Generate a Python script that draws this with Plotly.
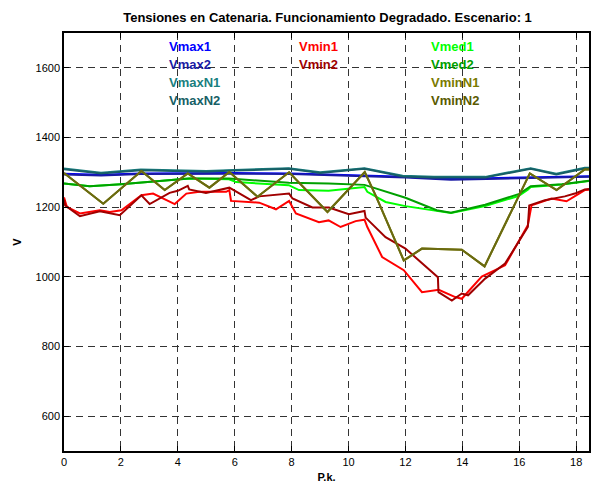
import plotly.graph_objects as go

# ---- data ----
vmax1_x = [0, 1.3, 2.7, 4, 6, 8, 9, 10.5, 12, 13.6, 15, 16.5, 18.45]
vmax1_y = [1296, 1293, 1297, 1298, 1298, 1297, 1295, 1292, 1287, 1281, 1283, 1287, 1289]
vmax2_x = [0, 1.3, 2.7, 4, 6, 8, 9, 10.5, 12, 13.6, 15, 16.5, 18.45]
vmax2_y = [1294, 1291, 1295, 1296, 1296, 1295, 1293, 1290, 1285, 1279, 1281, 1285, 1287]

vmaxn1_x = [0, 1.3, 2.7, 4, 5, 6, 7.9, 9, 10.56, 11.9, 13, 14.8, 16.4, 17.3, 18.3, 18.45]
vmaxn1_y = [1311, 1299, 1308, 1306, 1304, 1307, 1312, 1300, 1312, 1290, 1287, 1287, 1312, 1296, 1313, 1313]
vmaxn2_x = [0, 1.3, 2.7, 4, 5, 6, 7.9, 9, 10.56, 11.9, 13, 14.8, 16.4, 17.3, 18.3, 18.45]
vmaxn2_y = [1309, 1297, 1306, 1304, 1302, 1305, 1310, 1298, 1310, 1288, 1285, 1285, 1310, 1294, 1311, 1311]

vmin1_x = [0, 0.1, 0.56, 1.26, 1.61, 2.02, 2.72, 3.13, 3.89, 4.3, 4.76, 5.7, 5.81, 5.87,
           6.86, 7.45, 7.91, 8.15, 8.96, 9.3, 9.72, 10.25, 10.56, 10.66, 11.18, 11.94,
           12.58, 13.17, 13.75, 13.98, 14.68, 15.5, 16.3, 16.43, 17.13, 17.66, 18.0, 18.3, 18.45]
vmin1_y = [1228, 1201, 1182, 1191, 1186, 1191, 1234, 1239, 1209, 1239, 1244, 1244, 1249, 1218,
           1213, 1194, 1218, 1182, 1157, 1162, 1143, 1160, 1164, 1143, 1057, 1019,
           956, 963, 942, 937, 1001, 1033, 1148, 1205, 1225, 1217, 1234, 1249, 1250]

vmin2_x = [0, 0.04, 0.56, 1.26, 1.96, 2.72, 3.01, 3.71, 4.0, 4.35, 4.4, 4.99, 5.81, 6.16,
           6.57, 6.86, 7.91, 8.03, 8.73, 9.31, 10.01, 10.56, 10.6, 11.3, 12.0, 13.14,
           13.16, 13.63, 13.98, 14.2, 14.8, 15.5, 16.3, 16.35, 16.9, 17.6, 17.95, 18.3, 18.45]
vmin2_y = [1222, 1205, 1174, 1188, 1177, 1234, 1209, 1241, 1247, 1261, 1251, 1241, 1256, 1239,
           1220, 1231, 1239, 1225, 1199, 1199, 1180, 1189, 1170, 1114, 1081, 999,
           956, 932, 952, 947, 995, 1038, 1143, 1205, 1220, 1231, 1239, 1251, 1252]

vmed1_x = [0, 0.9, 2, 3.2, 4.4, 5.8, 6.05, 7.9, 8.26, 9.3, 10.56, 10.66, 11.3, 12,
           13.1, 13.6, 14.8, 15.97, 16.3, 16.4, 17.5, 18.45]
vmed1_y = [1268, 1260, 1266, 1275, 1282, 1280, 1272, 1263, 1249, 1247, 1258, 1244, 1215, 1203,
           1188, 1183, 1203, 1232, 1250, 1258, 1265, 1275]
vmed2_x = [0, 0.9, 2, 3.2, 4.4, 5.8, 7.9, 9.3, 10.56, 12, 13.1, 13.6, 14.8, 16.0, 16.4, 17.5, 18.45]
vmed2_y = [1268, 1260, 1266, 1275, 1282, 1282, 1270, 1268, 1264, 1227, 1191, 1184, 1207, 1238,
           1260, 1266, 1276]

vminn1_x = [0, 1.38, 2.72, 3.54, 4.35, 5.11, 5.81, 6.8, 7.91, 9.26, 10.57, 10.95, 11.94,
            12.58, 13.98, 14.78, 16.37, 17.31, 18.3, 18.45]
vminn1_y = [1298, 1210, 1304, 1249, 1297, 1256, 1301, 1230, 1300, 1186, 1301, 1234, 1047,
            1081, 1078, 1030, 1297, 1249, 1308, 1308]
vminn2_x = [0, 1.38, 2.72, 3.54, 4.35, 5.11, 5.81, 6.8, 7.91, 9.26, 10.57, 10.95, 11.94,
            12.58, 13.98, 14.78, 16.37, 17.31, 18.3, 18.45]
vminn2_y = [1298, 1210, 1304, 1249, 1297, 1256, 1301, 1230, 1300, 1186, 1301, 1234, 1047,
            1081, 1078, 1030, 1297, 1249, 1308, 1308]

x_ticks = [0, 2, 4, 6, 8, 10, 12, 14, 16, 18]
y_ticks = [600, 800, 1000, 1200, 1400, 1600]

series = [
    ("Vmax1", vmax1_x, vmax1_y, "#0000ff"),
    ("Vmax2", vmax2_x, vmax2_y, "#1a1aa5"),
    ("VmaxN1", vmaxn1_x, vmaxn1_y, "#1a7f7f"),
    ("VmaxN2", vmaxn2_x, vmaxn2_y, "#175f66"),
    ("Vmin1", vmin1_x, vmin1_y, "#ff0000"),
    ("Vmin2", vmin2_x, vmin2_y, "#a00000"),
    ("Vmed1", vmed1_x, vmed1_y, "#00ff00"),
    ("Vmed2", vmed2_x, vmed2_y, "#00a000"),
    ("VminN1", vminn1_x, vminn1_y, "#7a7a00"),
    ("VminN2", vminn2_x, vminn2_y, "#6a6a10"),
]

fig = go.Figure()
for name, xs, ys, col in series:
    fig.add_trace(go.Scatter(x=xs, y=ys, mode="lines", name=name,
                             line=dict(color=col, width=2), showlegend=False))

FONT = "Liberation Sans, Arial, Helvetica, sans-serif"

# Legend as coloured text (MATLAB-style, no line samples)
L, R, T, B = 64, 591, 33, 451
W, H = R - L, B - T
legend_pos = [
    ("Vmax1", "#0000ff", 167, 46), ("Vmax2", "#1a1aa5", 167, 64),
    ("VmaxN1", "#1a7f7f", 167, 82), ("VmaxN2", "#175f66", 167, 101),
    ("Vmin1", "#ff0000", 298, 46), ("Vmin2", "#a00000", 298, 64),
    ("Vmed1", "#00ff00", 430, 46), ("Vmed2", "#00a000", 430, 64),
    ("VminN1", "#7a7a00", 430, 82), ("VminN2", "#5a5a00", 430, 101),
]
annotations = []
for txt, col, px, py in legend_pos:
    annotations.append(dict(text="<b>" + txt + "</b>", x=(px - L) / W, y=(B - py) / H,
                            xref="paper", yref="paper", xanchor="left", yanchor="middle",
                            showarrow=False, font=dict(family=FONT, size=13, color=col)))

grid = dict(showgrid=True, gridcolor="#333333", gridwidth=1, griddash="7px,5px")
fig.update_layout(
    width=592, height=484,
    margin=dict(l=L, r=592 - R, t=T, b=484 - B),
    paper_bgcolor="white", plot_bgcolor="white",
    font=dict(family=FONT, size=11, color="black"),
    title=dict(text="<b>Tensiones en Catenaria. Funcionamiento Degradado. Escenario: 1</b>",
               x=(L + R) / 2 / 592, xanchor="center", y=1 - 17 / 484, yanchor="middle",
               font=dict(family=FONT, size=13, color="black")),
    xaxis=dict(range=[0, 18.45], tickvals=x_ticks, ticks="inside", ticklen=5,
               tickcolor="black", showline=True, linecolor="black", linewidth=1.5,
               mirror="ticks", zeroline=False,
               title=dict(text="<b>P.k.</b>", standoff=6, font=dict(size=11)), **grid),
    yaxis=dict(range=[500, 1700], tickvals=y_ticks, ticks="inside", ticklen=5,
               tickcolor="black", showline=True, linecolor="black", linewidth=1.5,
               mirror="ticks", zeroline=False,
               title=dict(text="<b>V</b>", standoff=12, font=dict(size=11)), **grid),
    annotations=annotations,
)

fig.write_html("out.html")
